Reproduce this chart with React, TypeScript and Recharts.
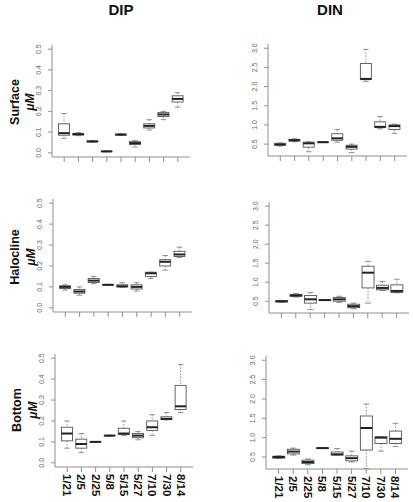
import React from 'react';
import { ComposedChart, Bar, XAxis, YAxis } from 'recharts';

const dates = ['1/21', '2/5', '2/25', '5/8', '5/15', '5/27', '7/10', '7/30', '8/14'];

// [min, q1, median, q3, max] for each sampling date
const dipSurface = [
  [0.07, 0.085, 0.095, 0.14, 0.19],
  [0.083, 0.086, 0.09, 0.094, 0.097],
  [0.052, 0.053, 0.055, 0.057, 0.058],
  [0.005, 0.006, 0.007, 0.008, 0.009],
  [0.084, 0.086, 0.088, 0.09, 0.092],
  [0.028, 0.04, 0.047, 0.054, 0.06],
  [0.11, 0.12, 0.13, 0.14, 0.16],
  [0.16, 0.175, 0.185, 0.195, 0.2],
  [0.22, 0.245, 0.26, 0.275, 0.29],
];
const dinSurface = [
  [0.45, 0.47, 0.49, 0.52, 0.53],
  [0.56, 0.58, 0.6, 0.62, 0.64],
  [0.3, 0.42, 0.52, 0.55, 0.56],
  [0.54, 0.545, 0.55, 0.555, 0.56],
  [0.55, 0.6, 0.65, 0.77, 0.88],
  [0.28, 0.37, 0.43, 0.47, 0.5],
  [2.13, 2.18, 2.2, 2.6, 2.97],
  [0.9, 0.93, 0.95, 1.08, 1.22],
  [0.78, 0.88, 0.97, 1.0, 1.02],
];
const dipHalocline = [
  [0.085, 0.092, 0.1, 0.105, 0.11],
  [0.06, 0.07, 0.078, 0.088, 0.1],
  [0.115, 0.121, 0.13, 0.14, 0.15],
  [0.108, 0.109, 0.11, 0.111, 0.112],
  [0.098, 0.1, 0.103, 0.11, 0.12],
  [0.08, 0.09, 0.1, 0.11, 0.12],
  [0.14, 0.15, 0.165, 0.17, 0.17],
  [0.18, 0.2, 0.22, 0.23, 0.25],
  [0.24, 0.245, 0.255, 0.27, 0.29],
];
const dinHalocline = [
  [0.47, 0.48, 0.5, 0.51, 0.52],
  [0.61, 0.63, 0.65, 0.68, 0.7],
  [0.28, 0.45, 0.55, 0.65, 0.73],
  [0.52, 0.525, 0.53, 0.535, 0.54],
  [0.47, 0.5, 0.55, 0.6, 0.63],
  [0.3, 0.33, 0.37, 0.42, 0.45],
  [0.45, 0.85, 1.25, 1.42, 1.55],
  [0.78, 0.8, 0.85, 0.92, 1.02],
  [0.72, 0.73, 0.77, 0.93, 1.08],
];
const dipBottom = [
  [0.07, 0.105, 0.14, 0.17, 0.2],
  [0.05, 0.07, 0.09, 0.113, 0.14],
  [0.098, 0.099, 0.1, 0.101, 0.102],
  [0.128, 0.129, 0.13, 0.131, 0.132],
  [0.13, 0.135, 0.14, 0.165, 0.2],
  [0.11, 0.12, 0.13, 0.14, 0.15],
  [0.13, 0.155, 0.17, 0.2, 0.23],
  [0.205, 0.207, 0.21, 0.22, 0.24],
  [0.24, 0.255, 0.27, 0.37, 0.47],
];
const dinBottom = [
  [0.46, 0.47, 0.5, 0.52, 0.53],
  [0.55, 0.58, 0.64, 0.7, 0.73],
  [0.3, 0.33, 0.37, 0.42, 0.45],
  [0.72, 0.725, 0.73, 0.735, 0.74],
  [0.55, 0.55, 0.57, 0.63, 0.72],
  [0.37, 0.4, 0.47, 0.53, 0.65],
  [0.2, 0.68, 1.25, 1.56, 1.87],
  [0.65, 0.85, 1.0, 1.02, 1.02],
  [0.77, 0.85, 0.97, 1.17, 1.37],
];

const dipTicks = [0, 0.1, 0.2, 0.3, 0.4, 0.5];
const dinTicks = [0.5, 1, 1.5, 2, 2.5, 3];
const dipDomain = [-0.02, 0.52];
const dinDomain = [0.19, 3.11];

const FONT = '"Liberation Sans", Arial, sans-serif';
const FRAME = '#8f8f8f';

const BoxShape = (props: any) => {
  const { x, y, width, height, payload } = props;
  const { min, q1, med, q3, max } = payload;
  const top = Math.min(y, y + height);
  const span = Math.abs(height);
  const k = max > min ? span / (max - min) : 0;
  const py = (v: number) => top + (max - v) * k;
  const cx = x + width / 2;
  const cap = width / 4;
  return (
    <g>
      <line x1={cx} x2={cx} y1={py(max)} y2={py(q3)} stroke="#777" strokeWidth={0.8} strokeDasharray="1.5 1.5" />
      <line x1={cx} x2={cx} y1={py(q1)} y2={py(min)} stroke="#777" strokeWidth={0.8} strokeDasharray="1.5 1.5" />
      <line x1={cx - cap} x2={cx + cap} y1={py(max)} y2={py(max)} stroke="#777" strokeWidth={0.8} />
      <line x1={cx - cap} x2={cx + cap} y1={py(min)} y2={py(min)} stroke="#777" strokeWidth={0.8} />
      <rect x={x} y={py(q3)} width={width} height={py(q1) - py(q3)} fill="#fff" stroke="#555" strokeWidth={0.9} />
      <line x1={x} x2={x + width} y1={py(med)} y2={py(med)} stroke="#222" strokeWidth={2} />
    </g>
  );
};

const YTick = (props: any) => {
  const { x, y, payload } = props;
  const tx = x - 5;
  return (
    <text x={tx} y={y} transform={`rotate(-90 ${tx} ${y})`} textAnchor="middle" fontSize={7} fill="#666" fontFamily={FONT}>
      {payload.value.toFixed(1)}
    </text>
  );
};

const XTick = (props: any) => {
  const { x, y, payload } = props;
  return (
    <text x={x} y={y} transform={`rotate(90 ${x} ${y})`} textAnchor="start" dominantBaseline="central" fontSize={11.5} fontWeight="bold" fill="#111" fontFamily={FONT}>
      {payload.value}
    </text>
  );
};

const NoTick = () => <g />;

type Frame = { x: number; y: number; w: number; h: number };

function Panel({ frame, stats, domain, ticks, labels }: { frame: Frame; stats: number[][]; domain: number[]; ticks: number[]; labels: boolean }) {
  const padLeft = 40;
  const padTop = 8;
  const padRight = 6;
  const bottom = labels ? 40 : 12;
  const data = dates.map((date, i) => {
    const [min, q1, med, q3, max] = stats[i];
    return { date, min, q1, med, q3, max };
  });
  const pad = (frame.w * 0.36) / 9.72;
  return (
    <div style={{ position: 'absolute', left: frame.x - padLeft, top: frame.y - padTop }}>
      <ComposedChart
        width={frame.w + padLeft + padRight}
        height={frame.h + padTop + bottom}
        data={data}
        margin={{ top: padTop, right: padRight, bottom: 0, left: 0 }}
        barCategoryGap="10%"
      >
        <XAxis
          dataKey="date"
          padding={{ left: pad, right: pad }}
          height={bottom}
          tickSize={5}
          tickMargin={2}
          interval={0}
          stroke={FRAME}
          tick={labels ? XTick : NoTick}
        />
        <XAxis xAxisId="top" dataKey="date" orientation="top" height={0} tick={false} tickLine={false} stroke={FRAME} />
        <YAxis
          type="number"
          domain={domain}
          ticks={ticks}
          interval={0}
          allowDataOverflow
          width={padLeft}
          tickSize={4}
          tickMargin={2}
          stroke={FRAME}
          tick={YTick}
        />
        <YAxis yAxisId="r" orientation="right" type="number" domain={domain} width={0} tick={false} tickLine={false} stroke={FRAME} />
        <Bar dataKey={(d: any) => [d.min, d.max]} shape={BoxShape} isAnimationActive={false} />
      </ComposedChart>
    </div>
  );
}

const rowLabels = [
  { name: 'Surface', mid: 102, x1: 15, x2: 30 },
  { name: 'Halocline', mid: 257, x1: 15, x2: 31 },
  { name: 'Bottom', mid: 410, x1: 17, x2: 33 },
];

export default function App() {
  return (
    <div style={{ position: 'absolute', left: 0, top: 0, width: 413, height: 502, background: '#fff', fontFamily: FONT }}>
      <Panel frame={{ x: 52, y: 45, w: 138, h: 112 }} stats={dipSurface} domain={dipDomain} ticks={dipTicks} labels={false} />
      <Panel frame={{ x: 268, y: 44, w: 139, h: 112 }} stats={dinSurface} domain={dinDomain} ticks={dinTicks} labels={false} />
      <Panel frame={{ x: 53, y: 199, w: 139, h: 113 }} stats={dipHalocline} domain={dipDomain} ticks={dipTicks} labels={false} />
      <Panel frame={{ x: 269, y: 202, w: 140, h: 111 }} stats={dinHalocline} domain={dinDomain} ticks={dinTicks} labels={false} />
      <Panel frame={{ x: 55, y: 354, w: 138, h: 113 }} stats={dipBottom} domain={dipDomain} ticks={dipTicks} labels />
      <Panel frame={{ x: 266, y: 356, w: 142, h: 113 }} stats={dinBottom} domain={dinDomain} ticks={dinTicks} labels />
      <svg width={413} height={502} style={{ position: 'absolute', left: 0, top: 0, pointerEvents: 'none' }}>
        <text x={121} y={15} textAnchor="middle" fontSize={15} fontWeight="bold" fill="#111" fontFamily={FONT}>DIP</text>
        <text x={330} y={15} textAnchor="middle" fontSize={15} fontWeight="bold" fill="#111" fontFamily={FONT}>DIN</text>
        {rowLabels.map((r) => (
          <g key={r.name}>
            <text x={r.x1} y={r.mid} transform={`rotate(-90 ${r.x1} ${r.mid})`} textAnchor="middle" dominantBaseline="central" fontSize={12.5} fontWeight="bold" fill="#111" fontFamily={FONT}>
              {r.name}
            </text>
            <text x={r.x2} y={r.mid} transform={`rotate(-90 ${r.x2} ${r.mid})`} textAnchor="middle" dominantBaseline="central" fontSize={12} fontWeight="bold" fontStyle="italic" fill="#111" fontFamily={FONT}>
              μM
            </text>
          </g>
        ))}
      </svg>
    </div>
  );
}
